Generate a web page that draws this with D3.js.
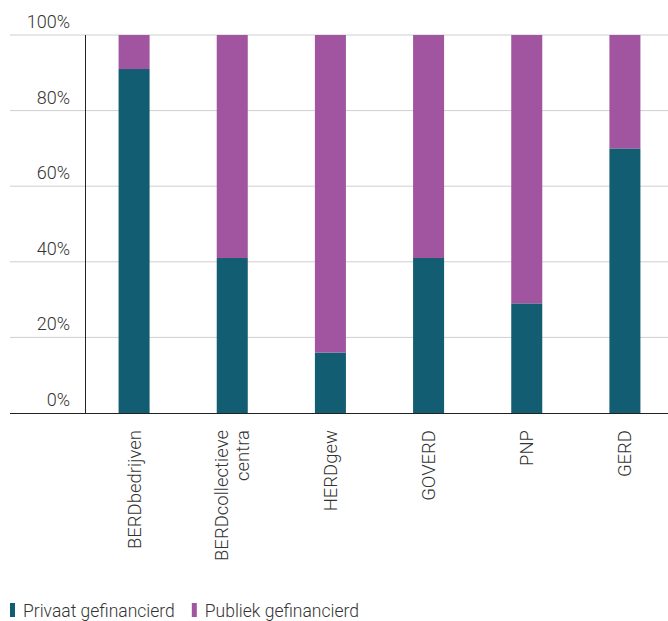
<!DOCTYPE html>
<html><head><meta charset="utf-8">
<script src="https://cdn.jsdelivr.net/npm/d3@7"></script>
<style>body{margin:0;background:#fff}svg{display:block;font-family:Roboto,"Open Sans",sans-serif;font-weight:300}</style>
</head><body>
<svg id="c" width="668" height="621"></svg>
<script>
const categories = ["BERDbedrijven","BERDcollectieve centra","HERDgew","GOVERD","PNP","GERD"];
const privaat = [91, 41, 16, 41, 29, 70];
const publiek = [9, 59, 84, 59, 71, 30];
const yTicks = [0, 20, 40, 60, 80, 100];
const seriesNames = ["Privaat gefinancierd","Publiek gefinancierd"];
const colors = ["#135d72","#a155a0"];

const svg = d3.select("#c");
const x = d3.scaleBand().domain(categories).range([85, 674]).paddingInner(0.684).paddingOuter(0.342);
const y = d3.scaleLinear().domain([0,100]).range([413, 35]);

// gridlines
svg.append("g").selectAll("line").data(yTicks.filter(d=>d>0)).join("line")
  .attr("x1",10).attr("x2",668).attr("y1",d=>y(d)).attr("y2",d=>y(d))
  .attr("stroke","#cfcfcf").attr("stroke-width",1);

// y labels
svg.append("g").selectAll("text").data(yTicks).join("text")
  .attr("x",70).attr("y",d=>y(d)-7).attr("text-anchor","end")
  .attr("font-size",18).attr("fill","#333").text(d=>d+"%");

const data = categories.map((c,i)=>({cat:c, Privaat:privaat[i], Publiek:publiek[i]}));
const stack = d3.stack().keys(["Privaat","Publiek"])(data);
svg.append("g").selectAll("g").data(stack).join("g").attr("fill",(d,i)=>colors[i])
  .selectAll("rect").data(d=>d).join("rect")
  .attr("x",d=>x(d.data.cat)).attr("width",x.bandwidth())
  .attr("y",d=>y(d[1])).attr("height",d=>y(d[0])-y(d[1]));

// axes lines
svg.append("line").attr("x1",85.5).attr("x2",85.5).attr("y1",35).attr("y2",413).attr("stroke","#222").attr("stroke-width",1);
svg.append("line").attr("x1",10).attr("x2",668).attr("y1",413.5).attr("y2",413.5).attr("stroke","#222").attr("stroke-width",1.2);

// x labels rotated
const xl = svg.append("g").selectAll("g").data(categories).join("g")
  .attr("transform",d=>`translate(${x(d)+x.bandwidth()/2},430) rotate(-90)`);
xl.each(function(d){
  const words = d === "BERDcollectieve centra" ? ["BERDcollectieve","centra"] : [d];
  const g = d3.select(this);
  const n = words.length;
  words.forEach((w,i)=>{
    g.append("text").attr("x",0).attr("y",(i-(n-1)/2)*21).attr("dy","0.35em")
      .attr("text-anchor","end")
      .attr("font-size",18.5).attr("fill","#333").text(w);
  });
});

// legend
const lg = svg.append("g").attr("transform","translate(10,603)");
let lx = 0;
seriesNames.forEach((s,i)=>{
  lg.append("rect").attr("x",lx).attr("y",0).attr("width",5).attr("height",14).attr("fill",colors[i]);
  const t = lg.append("text").attr("x",lx+13).attr("y",13.5).attr("font-size",17.5).attr("fill","#333").text(s);
  lx += 13 + t.node().getComputedTextLength() + 17;
});
</script>
</body></html>
